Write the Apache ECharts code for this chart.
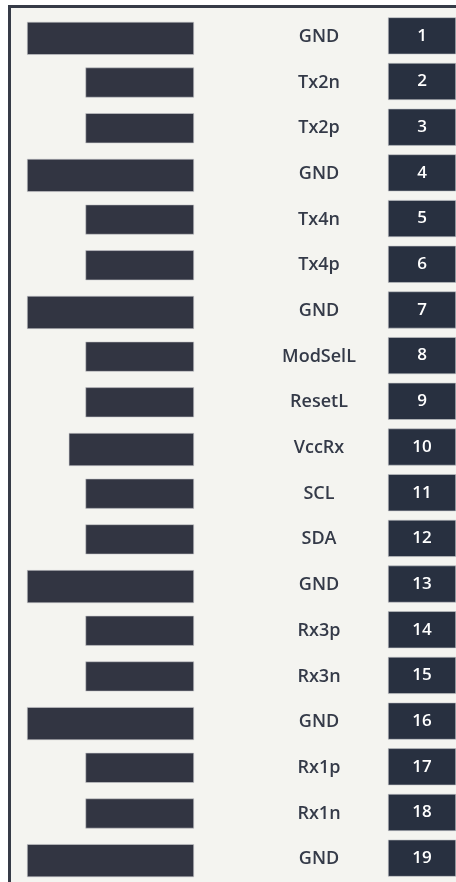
<!DOCTYPE html>
<html>
<head>
<meta charset="utf-8">
<script src="https://cdn.jsdelivr.net/npm/echarts@6/dist/echarts.min.js"></script>
<style>
html,body{margin:0;padding:0;background:#ffffff;}
#chart{width:456px;height:882px;}
</style>
</head>
<body>
<div id="chart"></div>
<script>
// Pin numbers (tick labels of the right column)
const pinNumbers = ['1','2','3','4','5','6','7','8','9','10','11','12','13','14','15','16','17','18','19'];
// Pin names
const pinNames = ['GND','Tx2n','Tx2p','GND','Tx4n','Tx4p','GND','ModSelL','ResetL','VccRx','SCL','SDA','GND','Rx3p','Rx3n','GND','Rx1p','Rx1n','GND'];
// Contact length (relative) per pin
const padLength = [100,65,65,100,65,65,100,65,65,75,65,65,100,65,65,100,65,65,100];
// Pin type: power pads drawn thicker
const padType = ['p','s','s','p','s','s','p','s','s','p','s','s','p','s','s','p','s','s','p'];

const powerData = padLength.map((v,i)=> padType[i]==='p' ? v : '-');
const signalData = padLength.map((v,i)=> padType[i]==='s' ? v : '-');
const boxData = pinNumbers.map(()=>1);

const dark = '#323542';
const boxColor = '#283040';
const textColor = '#343a48';
const font = '"Open Sans", "Noto Sans", sans-serif';

const chart = echarts.init(document.getElementById('chart'), null, {renderer:'canvas'});
chart.setOption({
  animation:false,
  backgroundColor:'#ffffff',
  graphic:[{
    type:'rect', z:-10, silent:true,
    shape:{x:9.5,y:6.5,width:520,height:920},
    style:{fill:'#f4f4f0',stroke:'#363b47',lineWidth:3}
  }],
  grid:[
    {left:27, right:262, top:14, bottom:0},
    {left:388, right:0, top:13, bottom:1}
  ],
  xAxis:[
    {gridIndex:0, type:'value', min:0, max:100, inverse:true, show:false},
    {gridIndex:1, type:'value', min:0, max:1, show:false}
  ],
  yAxis:[
    {gridIndex:0, type:'category', data:pinNames, inverse:true, position:'right',
     axisLine:{show:false}, axisTick:{show:false}, splitLine:{show:false},
     axisLabel:{show:true, align:'center', margin:125, color:textColor, fontSize:18, fontWeight:600, fontFamily:font}},
    {gridIndex:1, type:'category', data:pinNumbers, inverse:true, show:false}
  ],
  series:[
    {type:'bar', xAxisIndex:0, yAxisIndex:0, data:powerData, barWidth:33, barGap:'-100%',
     itemStyle:{color:dark, borderColor:'#c9cacd', borderWidth:0.6}, silent:true},
    {type:'bar', xAxisIndex:0, yAxisIndex:0, data:signalData, barWidth:30, barGap:'-100%',
     itemStyle:{color:dark, borderColor:'#c9cacd', borderWidth:0.6}, silent:true},
    {type:'bar', xAxisIndex:1, yAxisIndex:1, data:boxData, barWidth:37,
     itemStyle:{color:boxColor, borderColor:'#c4c6ca', borderWidth:0.6},
     label:{show:true, position:'inside', formatter:(p)=>pinNumbers[p.dataIndex], color:'#ffffff', fontSize:17, fontWeight:600, fontFamily:font},
     silent:true}
  ]
});
</script>
</body>
</html>
